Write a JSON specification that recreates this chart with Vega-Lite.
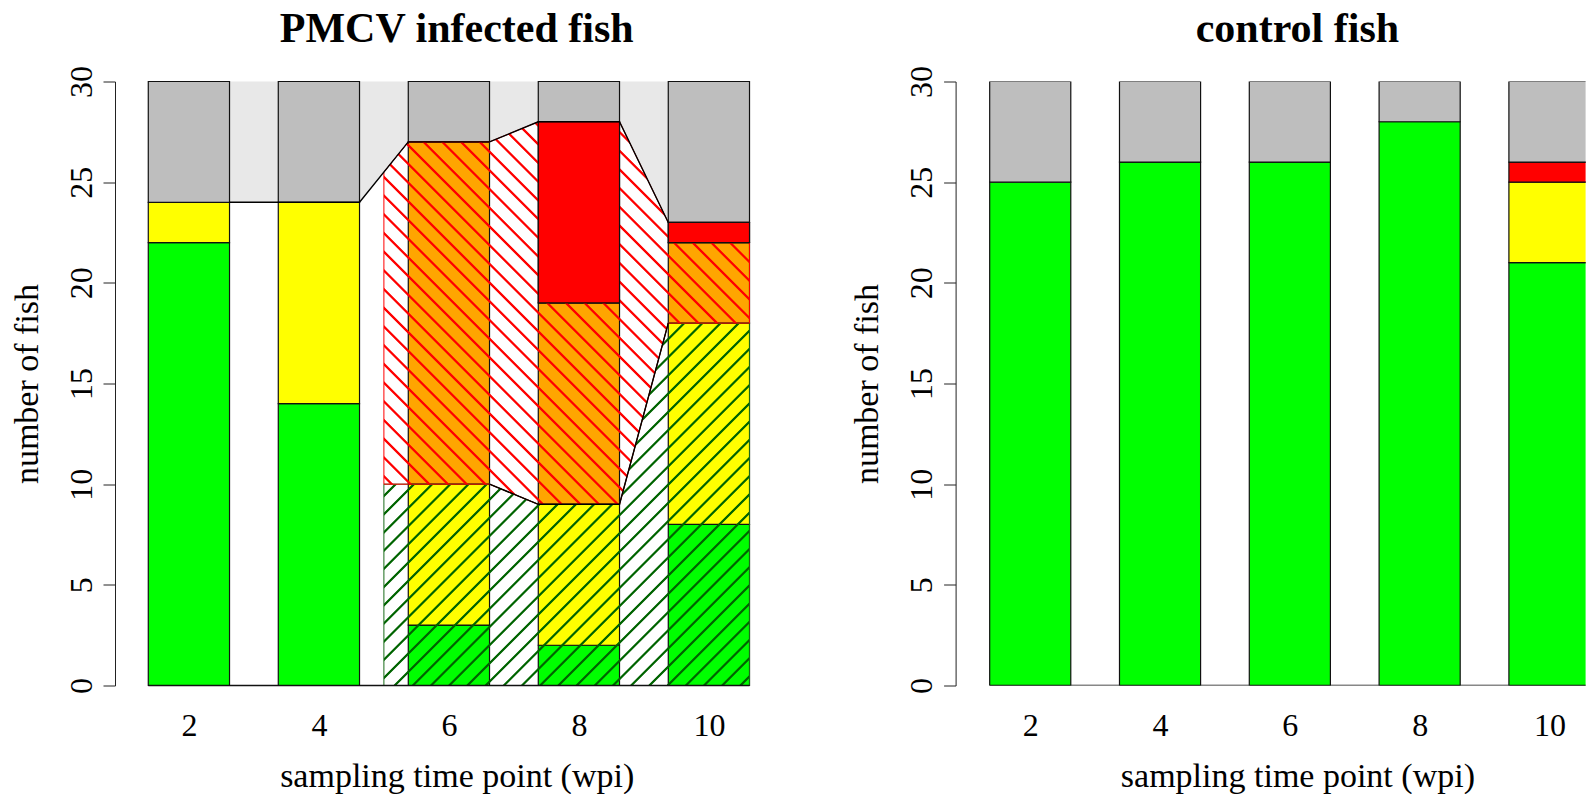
{
  "$schema": "https://vega.github.io/schema/vega-lite/v6.json",
  "background": "white",
  "padding": {"left": 10, "top": 7.5, "right": 0, "bottom": 0},
  "bounds": "flush",
  "spacing": 156.6,
  "config": {
    "view": {"stroke": null},
    "font": "Liberation Serif",
    "axis": {
      "grid": false,
      "labelFont": "Liberation Serif",
      "titleFont": "Liberation Serif",
      "labelColor": "#000",
      "titleColor": "#000",
      "domainColor": "#222",
      "tickColor": "#222",
      "titleFontWeight": "normal",
      "labelFontSize": 32,
      "titleFontSize": 34
    }
  },
  "datasets": {
    "infected": [
      {"wpi": 2, "status": "none", "lo": 0, "hi": 22},
      {"wpi": 2, "status": "mild", "lo": 22, "hi": 24},
      {"wpi": 2, "status": "other", "lo": 24, "hi": 30},
      {"wpi": 4, "status": "none", "lo": 0, "hi": 14},
      {"wpi": 4, "status": "mild", "lo": 14, "hi": 24},
      {"wpi": 4, "status": "other", "lo": 24, "hi": 30},
      {"wpi": 6, "status": "none", "lo": 0, "hi": 3},
      {"wpi": 6, "status": "mild", "lo": 3, "hi": 10},
      {"wpi": 6, "status": "moderate", "lo": 10, "hi": 27},
      {"wpi": 6, "status": "other", "lo": 27, "hi": 30},
      {"wpi": 8, "status": "none", "lo": 0, "hi": 2},
      {"wpi": 8, "status": "mild", "lo": 2, "hi": 9},
      {"wpi": 8, "status": "moderate", "lo": 9, "hi": 19},
      {"wpi": 8, "status": "severe", "lo": 19, "hi": 28},
      {"wpi": 8, "status": "other", "lo": 28, "hi": 30},
      {"wpi": 10, "status": "none", "lo": 0, "hi": 8},
      {"wpi": 10, "status": "mild", "lo": 8, "hi": 18},
      {"wpi": 10, "status": "moderate", "lo": 18, "hi": 22},
      {"wpi": 10, "status": "severe", "lo": 22, "hi": 23},
      {"wpi": 10, "status": "other", "lo": 23, "hi": 30}
    ],
    "control": [
      {"wpi": 2, "status": "none", "lo": 0, "hi": 25},
      {"wpi": 2, "status": "other", "lo": 25, "hi": 30},
      {"wpi": 4, "status": "none", "lo": 0, "hi": 26},
      {"wpi": 4, "status": "other", "lo": 26, "hi": 30},
      {"wpi": 6, "status": "none", "lo": 0, "hi": 26},
      {"wpi": 6, "status": "other", "lo": 26, "hi": 30},
      {"wpi": 8, "status": "none", "lo": 0, "hi": 28},
      {"wpi": 8, "status": "other", "lo": 28, "hi": 30},
      {"wpi": 10, "status": "none", "lo": 0, "hi": 21},
      {"wpi": 10, "status": "mild", "lo": 21, "hi": 25},
      {"wpi": 10, "status": "severe", "lo": 25, "hi": 26},
      {"wpi": 10, "status": "other", "lo": 26, "hi": 30}
    ],
    "edge": [
      {"x": 2.625, "top": 24},
      {"x": 3.375, "top": 24},
      {"x": 4.625, "top": 24},
      {"x": 5.375, "top": 27},
      {"x": 6.625, "top": 27},
      {"x": 7.375, "top": 28},
      {"x": 8.625, "top": 28},
      {"x": 9.375, "top": 23}
    ],
    "positiveLow": [
      {"x": 5, "lo": 0, "hi": 10},
      {"x": 5.375, "lo": 0, "hi": 10},
      {"x": 6.625, "lo": 0, "hi": 10},
      {"x": 7.375, "lo": 0, "hi": 9},
      {"x": 8.625, "lo": 0, "hi": 9},
      {"x": 9.375, "lo": 0, "hi": 18},
      {"x": 10.625, "lo": 0, "hi": 18}
    ],
    "positiveHigh": [
      {"x": 5, "lo": 10, "hi": 25.5},
      {"x": 5.375, "lo": 10, "hi": 27},
      {"x": 6.625, "lo": 10, "hi": 27},
      {"x": 7.375, "lo": 9, "hi": 28},
      {"x": 8.625, "lo": 9, "hi": 28},
      {"x": 9.375, "lo": 18, "hi": 23},
      {"x": 10.625, "lo": 18, "hi": 23}
    ],
    "split": [
      {"x": 6.625, "level": 10},
      {"x": 7.375, "level": 9},
      {"x": 8.625, "level": 9},
      {"x": 9.375, "level": 18}
    ],
    "baseline": [
      {"from": 1.375, "to": 10.625, "level": 0}
    ]
  },
  "hconcat": [
    {
      "width": 683.4,
      "height": 604,
      "title": {
        "text": "PMCV infected fish",
        "font": "Liberation Serif",
        "fontSize": 42,
        "fontWeight": "bold",
        "color": "#000",
        "anchor": "middle",
        "frame": "group",
        "baseline": "alphabetic",
        "offset": -18
      },
      "layer": [
        {
          "data": {"name": "edge"},
          "mark": {"type": "area", "color": "#e8e8e8", "opacity": 1, "interpolate": "linear"},
          "encoding": {
            "x": {
              "field": "x",
              "type": "quantitative",
              "scale": {"domain": [0.863, 11.377], "nice": false, "zero": false, "padding": 0},
              "axis": {
                "title": "sampling time point (wpi)",
                "values": [2, 4, 6, 8, 10],
                "format": "d",
                "domain": false,
                "ticks": false,
                "tickSize": 0,
                "labelPadding": 50,
                "labelBaseline": "alphabetic",
                "labelFlush": false,
                "labelOverlap": false,
                "titleX": 341.7,
                "titleY": 101,
                "titleBaseline": "alphabetic",
                "titleAlign": "center"
              }
            },
            "y": {
              "field": "top",
              "type": "quantitative",
              "scale": {"domain": [0, 30], "nice": false, "zero": false, "padding": 0},
              "axis": {
                "title": "number of fish",
                "values": [0, 5, 10, 15, 20, 25, 30],
                "format": "d",
                "tickSize": 12,
                "labelAngle": 270,
                "labelAlign": "center",
                "labelBaseline": "alphabetic",
                "labelPadding": 12,
                "labelFlush": false,
                "labelOverlap": false,
                "titleAngle": 270,
                "titleX": -78,
                "titleY": 302,
                "titleAlign": "center",
                "titleBaseline": "alphabetic"
              }
            },
            "y2": {"datum": 30}
          }
        },
        {
          "data": {"name": "infected"},
          "mark": {"type": "bar", "width": 81.25, "stroke": "#111", "strokeWidth": 1.2},
          "encoding": {
            "x": {"field": "wpi", "type": "quantitative"},
            "y": {"field": "lo", "type": "quantitative"},
            "y2": {"field": "hi"},
            "fill": {
              "field": "status",
              "type": "nominal",
              "scale": {
                "domain": ["none", "mild", "moderate", "severe", "other"],
                "range": ["#00ff00", "#ffff00", "#ffa500", "#ff0000", "#bebebe"]
              },
              "legend": null
            }
          }
        },
        {
          "data": {"name": "positiveLow"},
          "mark": {
            "type": "area",
            "interpolate": "linear",
            "opacity": 1,
            "stroke": "#1a6b1a",
            "strokeWidth": 1,
            "fill": {
              "gradient": "linear",
              "x1": 0, "y1": 0, "x2": 1.0044, "y2": 0.9956,
              "stops": [
                {"offset": 0.0095, "color": "rgba(0,100,0,0)"}, {"offset": 0.0112, "color": "#006400"}, {"offset": 0.0138, "color": "#006400"}, {"offset": 0.0155, "color": "rgba(0,100,0,0)"},
                {"offset": 0.0345, "color": "rgba(0,100,0,0)"}, {"offset": 0.0362, "color": "#006400"}, {"offset": 0.0388, "color": "#006400"}, {"offset": 0.0405, "color": "rgba(0,100,0,0)"},
                {"offset": 0.0595, "color": "rgba(0,100,0,0)"}, {"offset": 0.0612, "color": "#006400"}, {"offset": 0.0638, "color": "#006400"}, {"offset": 0.0655, "color": "rgba(0,100,0,0)"},
                {"offset": 0.0845, "color": "rgba(0,100,0,0)"}, {"offset": 0.0862, "color": "#006400"}, {"offset": 0.0888, "color": "#006400"}, {"offset": 0.0905, "color": "rgba(0,100,0,0)"},
                {"offset": 0.1095, "color": "rgba(0,100,0,0)"}, {"offset": 0.1112, "color": "#006400"}, {"offset": 0.1138, "color": "#006400"}, {"offset": 0.1155, "color": "rgba(0,100,0,0)"},
                {"offset": 0.1345, "color": "rgba(0,100,0,0)"}, {"offset": 0.1362, "color": "#006400"}, {"offset": 0.1388, "color": "#006400"}, {"offset": 0.1405, "color": "rgba(0,100,0,0)"},
                {"offset": 0.1595, "color": "rgba(0,100,0,0)"}, {"offset": 0.1612, "color": "#006400"}, {"offset": 0.1638, "color": "#006400"}, {"offset": 0.1655, "color": "rgba(0,100,0,0)"},
                {"offset": 0.1845, "color": "rgba(0,100,0,0)"}, {"offset": 0.1862, "color": "#006400"}, {"offset": 0.1888, "color": "#006400"}, {"offset": 0.1905, "color": "rgba(0,100,0,0)"},
                {"offset": 0.2095, "color": "rgba(0,100,0,0)"}, {"offset": 0.2112, "color": "#006400"}, {"offset": 0.2138, "color": "#006400"}, {"offset": 0.2155, "color": "rgba(0,100,0,0)"},
                {"offset": 0.2345, "color": "rgba(0,100,0,0)"}, {"offset": 0.2362, "color": "#006400"}, {"offset": 0.2388, "color": "#006400"}, {"offset": 0.2405, "color": "rgba(0,100,0,0)"},
                {"offset": 0.2595, "color": "rgba(0,100,0,0)"}, {"offset": 0.2612, "color": "#006400"}, {"offset": 0.2638, "color": "#006400"}, {"offset": 0.2655, "color": "rgba(0,100,0,0)"},
                {"offset": 0.2845, "color": "rgba(0,100,0,0)"}, {"offset": 0.2862, "color": "#006400"}, {"offset": 0.2888, "color": "#006400"}, {"offset": 0.2905, "color": "rgba(0,100,0,0)"},
                {"offset": 0.3095, "color": "rgba(0,100,0,0)"}, {"offset": 0.3112, "color": "#006400"}, {"offset": 0.3138, "color": "#006400"}, {"offset": 0.3155, "color": "rgba(0,100,0,0)"},
                {"offset": 0.3345, "color": "rgba(0,100,0,0)"}, {"offset": 0.3362, "color": "#006400"}, {"offset": 0.3388, "color": "#006400"}, {"offset": 0.3405, "color": "rgba(0,100,0,0)"},
                {"offset": 0.3595, "color": "rgba(0,100,0,0)"}, {"offset": 0.3612, "color": "#006400"}, {"offset": 0.3638, "color": "#006400"}, {"offset": 0.3655, "color": "rgba(0,100,0,0)"},
                {"offset": 0.3845, "color": "rgba(0,100,0,0)"}, {"offset": 0.3862, "color": "#006400"}, {"offset": 0.3888, "color": "#006400"}, {"offset": 0.3905, "color": "rgba(0,100,0,0)"},
                {"offset": 0.4095, "color": "rgba(0,100,0,0)"}, {"offset": 0.4112, "color": "#006400"}, {"offset": 0.4138, "color": "#006400"}, {"offset": 0.4155, "color": "rgba(0,100,0,0)"},
                {"offset": 0.4345, "color": "rgba(0,100,0,0)"}, {"offset": 0.4362, "color": "#006400"}, {"offset": 0.4388, "color": "#006400"}, {"offset": 0.4405, "color": "rgba(0,100,0,0)"},
                {"offset": 0.4595, "color": "rgba(0,100,0,0)"}, {"offset": 0.4612, "color": "#006400"}, {"offset": 0.4638, "color": "#006400"}, {"offset": 0.4655, "color": "rgba(0,100,0,0)"},
                {"offset": 0.4845, "color": "rgba(0,100,0,0)"}, {"offset": 0.4862, "color": "#006400"}, {"offset": 0.4888, "color": "#006400"}, {"offset": 0.4905, "color": "rgba(0,100,0,0)"},
                {"offset": 0.5095, "color": "rgba(0,100,0,0)"}, {"offset": 0.5112, "color": "#006400"}, {"offset": 0.5138, "color": "#006400"}, {"offset": 0.5155, "color": "rgba(0,100,0,0)"},
                {"offset": 0.5345, "color": "rgba(0,100,0,0)"}, {"offset": 0.5362, "color": "#006400"}, {"offset": 0.5388, "color": "#006400"}, {"offset": 0.5405, "color": "rgba(0,100,0,0)"},
                {"offset": 0.5595, "color": "rgba(0,100,0,0)"}, {"offset": 0.5612, "color": "#006400"}, {"offset": 0.5638, "color": "#006400"}, {"offset": 0.5655, "color": "rgba(0,100,0,0)"},
                {"offset": 0.5845, "color": "rgba(0,100,0,0)"}, {"offset": 0.5862, "color": "#006400"}, {"offset": 0.5888, "color": "#006400"}, {"offset": 0.5905, "color": "rgba(0,100,0,0)"},
                {"offset": 0.6095, "color": "rgba(0,100,0,0)"}, {"offset": 0.6112, "color": "#006400"}, {"offset": 0.6138, "color": "#006400"}, {"offset": 0.6155, "color": "rgba(0,100,0,0)"},
                {"offset": 0.6345, "color": "rgba(0,100,0,0)"}, {"offset": 0.6362, "color": "#006400"}, {"offset": 0.6388, "color": "#006400"}, {"offset": 0.6405, "color": "rgba(0,100,0,0)"},
                {"offset": 0.6595, "color": "rgba(0,100,0,0)"}, {"offset": 0.6612, "color": "#006400"}, {"offset": 0.6638, "color": "#006400"}, {"offset": 0.6655, "color": "rgba(0,100,0,0)"},
                {"offset": 0.6845, "color": "rgba(0,100,0,0)"}, {"offset": 0.6862, "color": "#006400"}, {"offset": 0.6888, "color": "#006400"}, {"offset": 0.6905, "color": "rgba(0,100,0,0)"},
                {"offset": 0.7095, "color": "rgba(0,100,0,0)"}, {"offset": 0.7112, "color": "#006400"}, {"offset": 0.7138, "color": "#006400"}, {"offset": 0.7155, "color": "rgba(0,100,0,0)"},
                {"offset": 0.7345, "color": "rgba(0,100,0,0)"}, {"offset": 0.7362, "color": "#006400"}, {"offset": 0.7388, "color": "#006400"}, {"offset": 0.7405, "color": "rgba(0,100,0,0)"},
                {"offset": 0.7595, "color": "rgba(0,100,0,0)"}, {"offset": 0.7612, "color": "#006400"}, {"offset": 0.7638, "color": "#006400"}, {"offset": 0.7655, "color": "rgba(0,100,0,0)"},
                {"offset": 0.7845, "color": "rgba(0,100,0,0)"}, {"offset": 0.7862, "color": "#006400"}, {"offset": 0.7888, "color": "#006400"}, {"offset": 0.7905, "color": "rgba(0,100,0,0)"},
                {"offset": 0.8095, "color": "rgba(0,100,0,0)"}, {"offset": 0.8112, "color": "#006400"}, {"offset": 0.8138, "color": "#006400"}, {"offset": 0.8155, "color": "rgba(0,100,0,0)"},
                {"offset": 0.8345, "color": "rgba(0,100,0,0)"}, {"offset": 0.8362, "color": "#006400"}, {"offset": 0.8388, "color": "#006400"}, {"offset": 0.8405, "color": "rgba(0,100,0,0)"},
                {"offset": 0.8595, "color": "rgba(0,100,0,0)"}, {"offset": 0.8612, "color": "#006400"}, {"offset": 0.8638, "color": "#006400"}, {"offset": 0.8655, "color": "rgba(0,100,0,0)"},
                {"offset": 0.8845, "color": "rgba(0,100,0,0)"}, {"offset": 0.8862, "color": "#006400"}, {"offset": 0.8888, "color": "#006400"}, {"offset": 0.8905, "color": "rgba(0,100,0,0)"},
                {"offset": 0.9095, "color": "rgba(0,100,0,0)"}, {"offset": 0.9112, "color": "#006400"}, {"offset": 0.9138, "color": "#006400"}, {"offset": 0.9155, "color": "rgba(0,100,0,0)"},
                {"offset": 0.9345, "color": "rgba(0,100,0,0)"}, {"offset": 0.9362, "color": "#006400"}, {"offset": 0.9388, "color": "#006400"}, {"offset": 0.9405, "color": "rgba(0,100,0,0)"},
                {"offset": 0.9595, "color": "rgba(0,100,0,0)"}, {"offset": 0.9612, "color": "#006400"}, {"offset": 0.9638, "color": "#006400"}, {"offset": 0.9655, "color": "rgba(0,100,0,0)"},
                {"offset": 0.9845, "color": "rgba(0,100,0,0)"}, {"offset": 0.9862, "color": "#006400"}, {"offset": 0.9888, "color": "#006400"}, {"offset": 0.9905, "color": "rgba(0,100,0,0)"}
              ]
            }
          },
          "encoding": {
            "x": {"field": "x", "type": "quantitative"},
            "y": {"field": "hi", "type": "quantitative"},
            "y2": {"field": "lo"}
          }
        },
        {
          "data": {"name": "positiveHigh"},
          "mark": {
            "type": "area",
            "interpolate": "linear",
            "opacity": 1,
            "stroke": "#ff0000",
            "strokeWidth": 1,
            "fill": {
              "gradient": "linear",
              "x1": 0, "y1": 1, "x2": 0.9769, "y2": -0.0221,
              "stops": [
                {"offset": 0.0095, "color": "rgba(255,0,0,0)"}, {"offset": 0.0112, "color": "#ff0000"}, {"offset": 0.0138, "color": "#ff0000"}, {"offset": 0.0155, "color": "rgba(255,0,0,0)"},
                {"offset": 0.0345, "color": "rgba(255,0,0,0)"}, {"offset": 0.0362, "color": "#ff0000"}, {"offset": 0.0388, "color": "#ff0000"}, {"offset": 0.0405, "color": "rgba(255,0,0,0)"},
                {"offset": 0.0595, "color": "rgba(255,0,0,0)"}, {"offset": 0.0612, "color": "#ff0000"}, {"offset": 0.0638, "color": "#ff0000"}, {"offset": 0.0655, "color": "rgba(255,0,0,0)"},
                {"offset": 0.0845, "color": "rgba(255,0,0,0)"}, {"offset": 0.0862, "color": "#ff0000"}, {"offset": 0.0888, "color": "#ff0000"}, {"offset": 0.0905, "color": "rgba(255,0,0,0)"},
                {"offset": 0.1095, "color": "rgba(255,0,0,0)"}, {"offset": 0.1112, "color": "#ff0000"}, {"offset": 0.1138, "color": "#ff0000"}, {"offset": 0.1155, "color": "rgba(255,0,0,0)"},
                {"offset": 0.1345, "color": "rgba(255,0,0,0)"}, {"offset": 0.1362, "color": "#ff0000"}, {"offset": 0.1388, "color": "#ff0000"}, {"offset": 0.1405, "color": "rgba(255,0,0,0)"},
                {"offset": 0.1595, "color": "rgba(255,0,0,0)"}, {"offset": 0.1612, "color": "#ff0000"}, {"offset": 0.1638, "color": "#ff0000"}, {"offset": 0.1655, "color": "rgba(255,0,0,0)"},
                {"offset": 0.1845, "color": "rgba(255,0,0,0)"}, {"offset": 0.1862, "color": "#ff0000"}, {"offset": 0.1888, "color": "#ff0000"}, {"offset": 0.1905, "color": "rgba(255,0,0,0)"},
                {"offset": 0.2095, "color": "rgba(255,0,0,0)"}, {"offset": 0.2112, "color": "#ff0000"}, {"offset": 0.2138, "color": "#ff0000"}, {"offset": 0.2155, "color": "rgba(255,0,0,0)"},
                {"offset": 0.2345, "color": "rgba(255,0,0,0)"}, {"offset": 0.2362, "color": "#ff0000"}, {"offset": 0.2388, "color": "#ff0000"}, {"offset": 0.2405, "color": "rgba(255,0,0,0)"},
                {"offset": 0.2595, "color": "rgba(255,0,0,0)"}, {"offset": 0.2612, "color": "#ff0000"}, {"offset": 0.2638, "color": "#ff0000"}, {"offset": 0.2655, "color": "rgba(255,0,0,0)"},
                {"offset": 0.2845, "color": "rgba(255,0,0,0)"}, {"offset": 0.2862, "color": "#ff0000"}, {"offset": 0.2888, "color": "#ff0000"}, {"offset": 0.2905, "color": "rgba(255,0,0,0)"},
                {"offset": 0.3095, "color": "rgba(255,0,0,0)"}, {"offset": 0.3112, "color": "#ff0000"}, {"offset": 0.3138, "color": "#ff0000"}, {"offset": 0.3155, "color": "rgba(255,0,0,0)"},
                {"offset": 0.3345, "color": "rgba(255,0,0,0)"}, {"offset": 0.3362, "color": "#ff0000"}, {"offset": 0.3388, "color": "#ff0000"}, {"offset": 0.3405, "color": "rgba(255,0,0,0)"},
                {"offset": 0.3595, "color": "rgba(255,0,0,0)"}, {"offset": 0.3612, "color": "#ff0000"}, {"offset": 0.3638, "color": "#ff0000"}, {"offset": 0.3655, "color": "rgba(255,0,0,0)"},
                {"offset": 0.3845, "color": "rgba(255,0,0,0)"}, {"offset": 0.3862, "color": "#ff0000"}, {"offset": 0.3888, "color": "#ff0000"}, {"offset": 0.3905, "color": "rgba(255,0,0,0)"},
                {"offset": 0.4095, "color": "rgba(255,0,0,0)"}, {"offset": 0.4112, "color": "#ff0000"}, {"offset": 0.4138, "color": "#ff0000"}, {"offset": 0.4155, "color": "rgba(255,0,0,0)"},
                {"offset": 0.4345, "color": "rgba(255,0,0,0)"}, {"offset": 0.4362, "color": "#ff0000"}, {"offset": 0.4388, "color": "#ff0000"}, {"offset": 0.4405, "color": "rgba(255,0,0,0)"},
                {"offset": 0.4595, "color": "rgba(255,0,0,0)"}, {"offset": 0.4612, "color": "#ff0000"}, {"offset": 0.4638, "color": "#ff0000"}, {"offset": 0.4655, "color": "rgba(255,0,0,0)"},
                {"offset": 0.4845, "color": "rgba(255,0,0,0)"}, {"offset": 0.4862, "color": "#ff0000"}, {"offset": 0.4888, "color": "#ff0000"}, {"offset": 0.4905, "color": "rgba(255,0,0,0)"},
                {"offset": 0.5095, "color": "rgba(255,0,0,0)"}, {"offset": 0.5112, "color": "#ff0000"}, {"offset": 0.5138, "color": "#ff0000"}, {"offset": 0.5155, "color": "rgba(255,0,0,0)"},
                {"offset": 0.5345, "color": "rgba(255,0,0,0)"}, {"offset": 0.5362, "color": "#ff0000"}, {"offset": 0.5388, "color": "#ff0000"}, {"offset": 0.5405, "color": "rgba(255,0,0,0)"},
                {"offset": 0.5595, "color": "rgba(255,0,0,0)"}, {"offset": 0.5612, "color": "#ff0000"}, {"offset": 0.5638, "color": "#ff0000"}, {"offset": 0.5655, "color": "rgba(255,0,0,0)"},
                {"offset": 0.5845, "color": "rgba(255,0,0,0)"}, {"offset": 0.5862, "color": "#ff0000"}, {"offset": 0.5888, "color": "#ff0000"}, {"offset": 0.5905, "color": "rgba(255,0,0,0)"},
                {"offset": 0.6095, "color": "rgba(255,0,0,0)"}, {"offset": 0.6112, "color": "#ff0000"}, {"offset": 0.6138, "color": "#ff0000"}, {"offset": 0.6155, "color": "rgba(255,0,0,0)"},
                {"offset": 0.6345, "color": "rgba(255,0,0,0)"}, {"offset": 0.6362, "color": "#ff0000"}, {"offset": 0.6388, "color": "#ff0000"}, {"offset": 0.6405, "color": "rgba(255,0,0,0)"},
                {"offset": 0.6595, "color": "rgba(255,0,0,0)"}, {"offset": 0.6612, "color": "#ff0000"}, {"offset": 0.6638, "color": "#ff0000"}, {"offset": 0.6655, "color": "rgba(255,0,0,0)"},
                {"offset": 0.6845, "color": "rgba(255,0,0,0)"}, {"offset": 0.6862, "color": "#ff0000"}, {"offset": 0.6888, "color": "#ff0000"}, {"offset": 0.6905, "color": "rgba(255,0,0,0)"},
                {"offset": 0.7095, "color": "rgba(255,0,0,0)"}, {"offset": 0.7112, "color": "#ff0000"}, {"offset": 0.7138, "color": "#ff0000"}, {"offset": 0.7155, "color": "rgba(255,0,0,0)"},
                {"offset": 0.7345, "color": "rgba(255,0,0,0)"}, {"offset": 0.7362, "color": "#ff0000"}, {"offset": 0.7388, "color": "#ff0000"}, {"offset": 0.7405, "color": "rgba(255,0,0,0)"},
                {"offset": 0.7595, "color": "rgba(255,0,0,0)"}, {"offset": 0.7612, "color": "#ff0000"}, {"offset": 0.7638, "color": "#ff0000"}, {"offset": 0.7655, "color": "rgba(255,0,0,0)"},
                {"offset": 0.7845, "color": "rgba(255,0,0,0)"}, {"offset": 0.7862, "color": "#ff0000"}, {"offset": 0.7888, "color": "#ff0000"}, {"offset": 0.7905, "color": "rgba(255,0,0,0)"},
                {"offset": 0.8095, "color": "rgba(255,0,0,0)"}, {"offset": 0.8112, "color": "#ff0000"}, {"offset": 0.8138, "color": "#ff0000"}, {"offset": 0.8155, "color": "rgba(255,0,0,0)"},
                {"offset": 0.8345, "color": "rgba(255,0,0,0)"}, {"offset": 0.8362, "color": "#ff0000"}, {"offset": 0.8388, "color": "#ff0000"}, {"offset": 0.8405, "color": "rgba(255,0,0,0)"},
                {"offset": 0.8595, "color": "rgba(255,0,0,0)"}, {"offset": 0.8612, "color": "#ff0000"}, {"offset": 0.8638, "color": "#ff0000"}, {"offset": 0.8655, "color": "rgba(255,0,0,0)"},
                {"offset": 0.8845, "color": "rgba(255,0,0,0)"}, {"offset": 0.8862, "color": "#ff0000"}, {"offset": 0.8888, "color": "#ff0000"}, {"offset": 0.8905, "color": "rgba(255,0,0,0)"},
                {"offset": 0.9095, "color": "rgba(255,0,0,0)"}, {"offset": 0.9112, "color": "#ff0000"}, {"offset": 0.9138, "color": "#ff0000"}, {"offset": 0.9155, "color": "rgba(255,0,0,0)"},
                {"offset": 0.9345, "color": "rgba(255,0,0,0)"}, {"offset": 0.9362, "color": "#ff0000"}, {"offset": 0.9388, "color": "#ff0000"}, {"offset": 0.9405, "color": "rgba(255,0,0,0)"},
                {"offset": 0.9595, "color": "rgba(255,0,0,0)"}, {"offset": 0.9612, "color": "#ff0000"}, {"offset": 0.9638, "color": "#ff0000"}, {"offset": 0.9655, "color": "rgba(255,0,0,0)"},
                {"offset": 0.9845, "color": "rgba(255,0,0,0)"}, {"offset": 0.9862, "color": "#ff0000"}, {"offset": 0.9888, "color": "#ff0000"}, {"offset": 0.9905, "color": "rgba(255,0,0,0)"}
              ]
            }
          },
          "encoding": {
            "x": {"field": "x", "type": "quantitative"},
            "y": {"field": "hi", "type": "quantitative"},
            "y2": {"field": "lo"}
          }
        },
        {
          "data": {"name": "infected"},
          "transform": [{"filter": "datum.status === 'severe'"}],
          "mark": {"type": "bar", "width": 81.25, "stroke": "#111", "strokeWidth": 1.2, "fill": "#ff0000"},
          "encoding": {
            "x": {"field": "wpi", "type": "quantitative"},
            "y": {"field": "lo", "type": "quantitative"},
            "y2": {"field": "hi"}
          }
        },
        {
          "data": {"name": "edge"},
          "mark": {"type": "line", "color": "#000", "strokeWidth": 1.4, "interpolate": "linear"},
          "encoding": {
            "x": {"field": "x", "type": "quantitative"},
            "y": {"field": "top", "type": "quantitative"}
          }
        },
        {
          "data": {"name": "split"},
          "mark": {"type": "line", "color": "#000", "strokeWidth": 1.4, "interpolate": "linear"},
          "encoding": {
            "x": {"field": "x", "type": "quantitative"},
            "y": {"field": "level", "type": "quantitative"}
          }
        },
        {
          "data": {"name": "baseline"},
          "mark": {"type": "rule", "color": "#111", "strokeWidth": 1.4},
          "encoding": {
            "x": {"field": "from", "type": "quantitative"},
            "x2": {"field": "to"},
            "y": {"field": "level", "type": "quantitative"}
          }
        }
      ]
    },
    {
      "width": 630,
      "height": 604,
      "title": {
        "text": "control fish",
        "font": "Liberation Serif",
        "fontSize": 42,
        "fontWeight": "bold",
        "color": "#000",
        "anchor": "middle",
        "frame": "group",
        "baseline": "alphabetic",
        "offset": -18,
        "dx": 26.8
      },
      "layer": [
        {
          "data": {"name": "control"},
          "mark": {"type": "bar", "width": 81.1, "stroke": "#111", "strokeWidth": 1.2, "clip": true},
          "encoding": {
            "x": {
              "field": "wpi",
              "type": "quantitative",
              "scale": {"domain": [0.85, 10.557], "nice": false, "zero": false, "padding": 0},
              "axis": {
                "title": "sampling time point (wpi)",
                "values": [2, 4, 6, 8, 10],
                "format": "d",
                "domain": false,
                "ticks": false,
                "tickSize": 0,
                "labelPadding": 50,
                "labelBaseline": "alphabetic",
                "labelFlush": false,
                "labelOverlap": false,
                "titleX": 341.8,
                "titleY": 101,
                "titleBaseline": "alphabetic",
                "titleAlign": "center"
              }
            },
            "y": {
              "field": "lo",
              "type": "quantitative",
              "scale": {"domain": [0, 30], "nice": false, "zero": false, "padding": 0},
              "axis": {
                "title": "number of fish",
                "values": [0, 5, 10, 15, 20, 25, 30],
                "format": "d",
                "tickSize": 12,
                "labelAngle": 270,
                "labelAlign": "center",
                "labelBaseline": "alphabetic",
                "labelPadding": 12,
                "labelFlush": false,
                "labelOverlap": false,
                "titleAngle": 270,
                "titleX": -78,
                "titleY": 302,
                "titleAlign": "center",
                "titleBaseline": "alphabetic"
              }
            },
            "y2": {"field": "hi"},
            "fill": {
              "field": "status",
              "type": "nominal",
              "scale": {
                "domain": ["none", "mild", "moderate", "severe", "other"],
                "range": ["#00ff00", "#ffff00", "#ffa500", "#ff0000", "#bebebe"]
              },
              "legend": null
            }
          }
        },
        {
          "data": {"name": "baseline"},
          "mark": {"type": "rule", "color": "#111", "strokeWidth": 1.4, "clip": true},
          "encoding": {
            "x": {"field": "from", "type": "quantitative"},
            "x2": {"field": "to"},
            "y": {"field": "level", "type": "quantitative"}
          }
        }
      ]
    }
  ]
}
